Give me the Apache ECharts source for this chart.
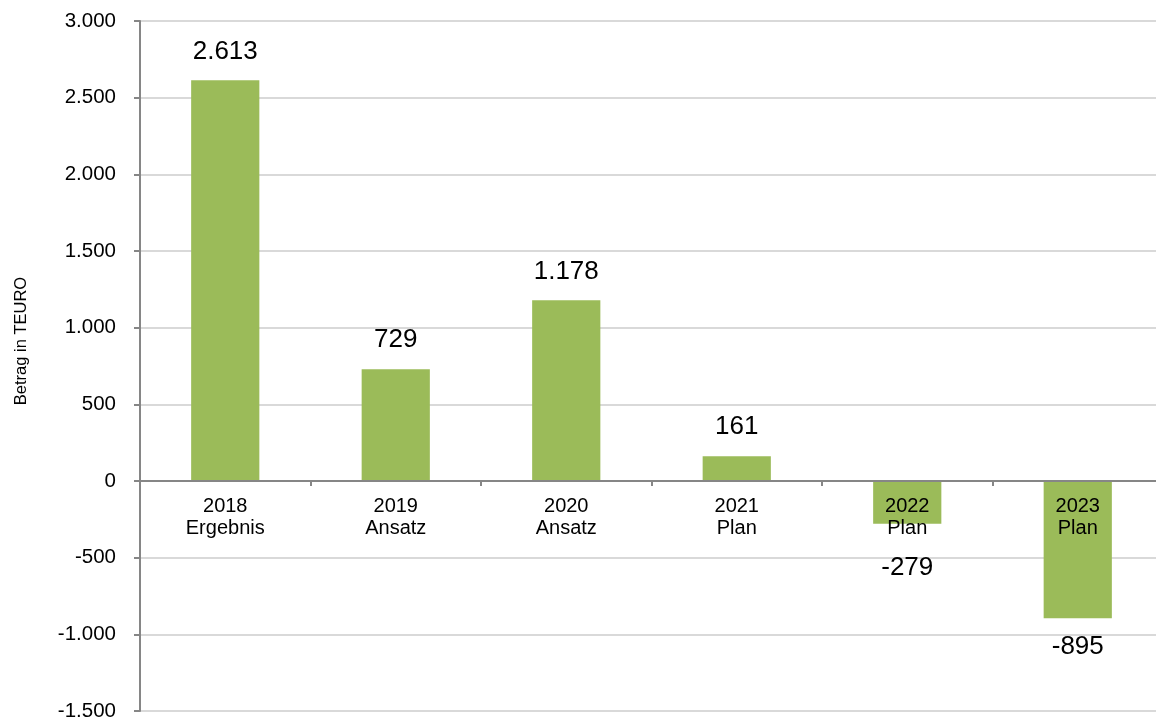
<!DOCTYPE html>
<html><head><meta charset="utf-8">
<script src="https://cdn.jsdelivr.net/npm/echarts@6/dist/echarts.min.js"></script>
<style>html,body{margin:0;padding:0;background:#fff}#c{width:1156px;height:722px}</style>
</head><body><div id="c"></div>
<script>
const categories = ['2018\nErgebnis','2019\nAnsatz','2020\nAnsatz','2021\nPlan','2022\nPlan','2023\nPlan'];
const values = [2613, 729, 1178, 161, -279, -895];
const yMin = -1500, yMax = 3000, yStep = 500;
const yTitle = 'Betrag in TEURO';

function fmt(v){
  const neg = v < 0; let s = String(Math.abs(Math.round(v)));
  s = s.replace(/\B(?=(\d{3})+(?!\d))/g, '.');
  return (neg ? '-' : '') + s;
}
const chart = echarts.init(document.getElementById('c'));
const font = 'Liberation Sans, Arial, sans-serif';
const gridTop = 21, gridBottom = 11, H = 722;
const plotH = H - gridTop - gridBottom;
const zeroOffset = plotH * (0 - yMin) / (yMax - yMin); // distance from bottom to zero line
chart.setOption({
  animation:false,
  grid:{left:140, right:-7, top:gridTop, bottom:gridBottom, containLabel:false, outerBoundsMode:'none'},
  graphic:[{type:'text', x:21, y:341, rotation:Math.PI/2,
    style:{text:yTitle, fill:'#000', font:'16.5px Liberation Sans, Arial, sans-serif', textAlign:'center', textVerticalAlign:'middle'}}],
  xAxis:[{type:'category', data:categories,
    axisLine:{onZero:true, lineStyle:{color:'#868686', width:2}},
    axisTick:{show:true, alignWithLabel:false, length:5, lineStyle:{color:'#868686', width:2}},
    axisLabel:{show:false},
    z:3
  },{type:'category', data:categories, position:'bottom', offset:-zeroOffset,
    axisLine:{show:false}, axisTick:{show:false}, splitLine:{show:false},
    axisLabel:{color:'#000', fontFamily:font, fontSize:20, lineHeight:22, margin:14},
    z:5
  }],
  yAxis:{type:'value', min:yMin, max:yMax, interval:yStep,
    axisLine:{show:true, lineStyle:{color:'#868686', width:2}},
    axisTick:{show:true, length:6, lineStyle:{color:'#868686', width:2}},
    axisLabel:{color:'#000', fontFamily:font, fontSize:20.5, margin:24, formatter:fmt},
    splitLine:{lineStyle:{color:'#d9d9d9', width:2}}
  },
  series:[{type:'bar', xAxisIndex:0, barWidth:'40%', itemStyle:{color:'#9BBB59'}, z:2,
    data: values.map((v,i)=>({value:v, label:{position: v>=0?'top':'bottom', distance: (v<0 && v>-500)?31:16}})),
    label:{show:true, color:'#000', fontFamily:font, fontSize:26, formatter:p=>fmt(p.value)}
  }]
});
</script></body></html>
